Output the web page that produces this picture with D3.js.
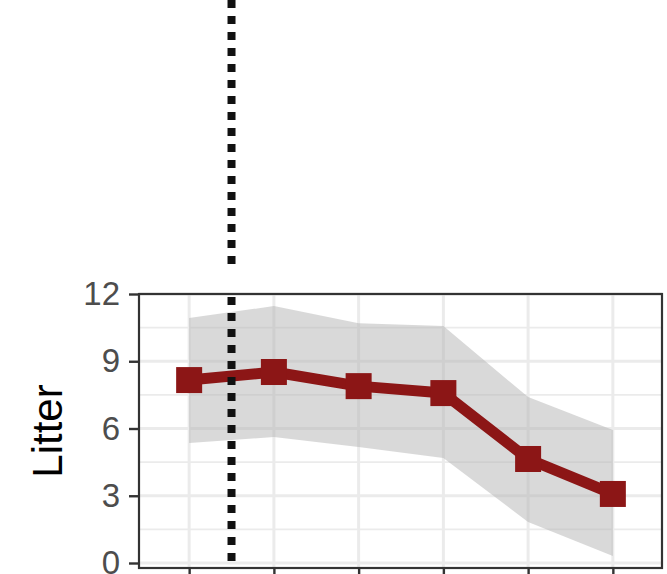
<!DOCTYPE html>
<html>
<head>
<meta charset="utf-8">
<script src="https://cdn.jsdelivr.net/npm/d3@7"></script>
<style>
  html, body { margin: 0; padding: 0; background: #ffffff; }
  svg { display: block; font-family: "Liberation Sans", Arial, Helvetica, sans-serif; }
</style>
</head>
<body>
<svg id="chart" width="667" height="574"></svg>
<script>
// Sampling periods along the x axis and the litter estimate per period
const periods = [1, 2, 3, 4, 5, 6];
const litterMean  = [8.16, 8.52, 7.89, 7.58, 4.64, 3.08];
const litterUpper = [10.93, 11.46, 10.70, 10.57, 7.40, 5.93];
const litterLower = [5.35, 5.62, 5.17, 4.68, 1.83, 0.31];
const yTicks = [0, 3, 6, 9, 12];
const yMinorTicks = [1.5, 4.5, 7.5, 10.5];
const breakPoint = 1.5;   // position of the dotted reference line
const yTitle = "Litter";

const svg = d3.select("#chart");
const panel = { left: 139, right: 662, top: 294, bottom: 568 };

const x = d3.scaleLinear().domain([0.42, 6.58]).range([140, 662]);
const y = d3.scaleLinear().domain([0, 12]).range([563, 294]);

const rows = periods.map((p, i) => ({ p, mean: litterMean[i], lo: litterLower[i], hi: litterUpper[i] }));

// panel background
svg.append("rect")
  .attr("x", panel.left).attr("y", panel.top)
  .attr("width", panel.right - panel.left).attr("height", panel.bottom - panel.top)
  .attr("fill", "#ffffff");

const grid = svg.append("g");
// minor horizontal grid
grid.selectAll("line.minor").data(yMinorTicks).join("line")
  .attr("class", "minor")
  .attr("x1", panel.left).attr("x2", panel.right)
  .attr("y1", d => y(d)).attr("y2", d => y(d))
  .attr("stroke", "#ebebeb").attr("stroke-width", 1.8);
// major horizontal grid
grid.selectAll("line.majorY").data(yTicks).join("line")
  .attr("class", "majorY")
  .attr("x1", panel.left).attr("x2", panel.right)
  .attr("y1", d => y(d)).attr("y2", d => y(d))
  .attr("stroke", "#ebebeb").attr("stroke-width", 3);
// major vertical grid
grid.selectAll("line.majorX").data(periods).join("line")
  .attr("class", "majorX")
  .attr("y1", panel.top).attr("y2", panel.bottom)
  .attr("x1", d => x(d)).attr("x2", d => x(d))
  .attr("stroke", "#ebebeb").attr("stroke-width", 3);

// confidence ribbon
const area = d3.area()
  .x(d => x(d.p))
  .y0(d => y(d.lo))
  .y1(d => y(d.hi));
svg.append("path")
  .datum(rows)
  .attr("d", area)
  .attr("fill", "#b3b3b3")
  .attr("fill-opacity", 0.5);

// mean line
const red = "#8c1616";
const line = d3.line().x(d => x(d.p)).y(d => y(d.mean));
svg.append("path")
  .datum(rows)
  .attr("d", line)
  .attr("fill", "none")
  .attr("stroke", red)
  .attr("stroke-width", 11)
  .attr("stroke-linejoin", "round");

// square markers
const sq = 26;
svg.selectAll("rect.pt").data(rows).join("rect")
  .attr("class", "pt")
  .attr("x", d => x(d.p) - sq / 2)
  .attr("y", d => y(d.mean) - sq / 2)
  .attr("width", sq).attr("height", sq)
  .attr("fill", red);

// dotted reference line (upper facet part and this panel)
const vx = x(breakPoint);
const dotted = [[0, 264], [297, 561]];
svg.selectAll("line.vref").data(dotted).join("line")
  .attr("class", "vref")
  .attr("x1", vx).attr("x2", vx)
  .attr("y1", d => d[0]).attr("y2", d => d[1])
  .attr("stroke", "#111111")
  .attr("stroke-width", 8)
  .attr("stroke-dasharray", "8,8");

// panel border
svg.append("rect")
  .attr("x", panel.left).attr("y", panel.top)
  .attr("width", panel.right - panel.left).attr("height", panel.bottom - panel.top)
  .attr("fill", "none")
  .attr("stroke", "#333333")
  .attr("stroke-width", 2.2);

// y axis
const yAxis = d3.axisLeft(y).tickValues(yTicks).tickSize(10).tickPadding(9).tickFormat(d3.format("d"));
const gy = svg.append("g").attr("transform", `translate(${panel.left},0)`).call(yAxis);
gy.select(".domain").remove();
gy.selectAll(".tick line").attr("stroke", "#333333").attr("stroke-width", 2.4);
gy.selectAll(".tick text")
  .attr("fill", "#4d4d4d")
  .style("font-size", "33px")
  .style("font-family", "'Liberation Sans', Arial, sans-serif");

// x axis (ticks only; labels fall below the visible area)
const xAxis = d3.axisBottom(x).tickValues(periods).tickSize(10).tickFormat("");
const gx = svg.append("g").attr("transform", `translate(0,${panel.bottom})`).call(xAxis);
gx.select(".domain").remove();
gx.selectAll(".tick line").attr("stroke", "#333333").attr("stroke-width", 2.4);

// y axis title
svg.append("text")
  .attr("transform", `translate(62,${(panel.top + panel.bottom) / 2}) rotate(-90)`)
  .attr("text-anchor", "middle")
  .attr("fill", "#000000")
  .style("font-size", "42px")
  .text(yTitle);
</script>
</body>
</html>
